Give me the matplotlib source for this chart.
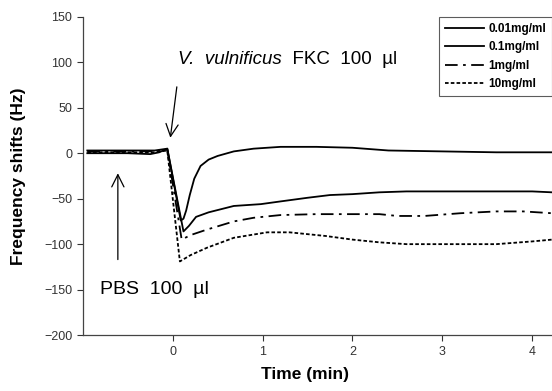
import matplotlib
matplotlib.use("Agg")
import matplotlib.pyplot as plt

plt.rcParams['font.family'] = ['Liberation Sans', 'DejaVu Sans']

# 0.01 mg/ml
t1 = [-0.95, -0.5, -0.2, -0.06, 0.09, 0.12, 0.15, 0.19, 0.24, 0.31, 0.4, 0.5, 0.68, 0.9, 1.2, 1.6, 2.0, 2.4, 3.0, 3.6, 4.22]
v1 = [3, 3, 3, 5, -74, -72, -63, -46, -28, -14, -7, -3, 2, 5, 7, 7, 6, 3, 2, 1, 1]
# 0.1 mg/ml
t2 = [-0.95, -0.5, -0.25, -0.15, -0.06, 0.12, 0.18, 0.26, 0.4, 0.68, 0.98, 1.2, 1.5, 1.75, 2.0, 2.3, 2.6, 3.0, 3.6, 4.0, 4.22]
v2 = [0, 0, -1, 1, 5, -86, -80, -70, -65, -58, -56, -53, -49, -46, -45, -43, -42, -42, -42, -42, -43]
# 1 mg/ml
t3 = [-0.95, -0.5, -0.2, -0.06, 0.1, 0.2, 0.38, 0.68, 0.9, 1.2, 1.6, 2.0, 2.3, 2.5, 2.8, 3.2, 3.6, 3.9, 4.22]
v3 = [2, 2, 2, 4, -95, -90, -84, -75, -71, -68, -67, -67, -67, -69, -69, -66, -64, -64, -66]
# 10 mg/ml
t4 = [-0.95, -0.5, -0.2, -0.06, 0.08, 0.2, 0.38, 0.68, 1.05, 1.3, 1.7, 2.0, 2.3, 2.6, 3.0, 3.6, 4.0, 4.22]
v4 = [1, 1, 1, 3, -119, -112, -104, -93, -87, -87, -91, -95, -98, -100, -100, -100, -97, -95]

labels = ['0.01mg/ml', '0.1mg/ml', '1mg/ml', '10mg/ml']
xticks = [0, 1, 2, 3, 4]
yticks = [-200, -150, -100, -50, 0, 50, 100, 150]

fig = plt.figure(figsize=(5.52, 3.91), dpi=100)
ax = fig.add_axes([0.150, 0.143, 0.85, 0.814])

ax.plot(t1, v1, color='black', lw=1.3, label=labels[0])
ax.plot(t2, v2, color='black', lw=1.3, label=labels[1])
ax.plot(t3, v3, color='black', lw=1.3, dashes=(7, 3, 1.5, 3), label=labels[2])
ax.plot(t4, v4, color='black', lw=1.3, dashes=(2, 1.2), label=labels[3])

ax.set_xlim(-1, 4.22)
ax.set_ylim(-200, 150)
ax.set_xticks(xticks)
ax.set_yticks(yticks)
ax.tick_params(labelsize=9, colors='#333333', length=4, width=0.8)
for s in ['top', 'right']:
    ax.spines[s].set_visible(False)
for s in ['left', 'bottom']:
    ax.spines[s].set_color('#444444')
    ax.spines[s].set_linewidth(0.9)

ax.set_xlabel('Time (min)', fontsize=12.5, fontweight='bold')
ax.set_ylabel('Frequency shifts (Hz)', fontsize=12.5, fontweight='bold')
ax.xaxis.set_label_coords(0.473, -0.1)
ax.yaxis.set_label_coords(-0.12, 0.5)

# annotations
ax.annotate('', xy=(-0.03, 14), xytext=(0.05, 76),
            arrowprops=dict(arrowstyle='->', lw=0.9, color='black', mutation_scale=22))
vtxt = ax.text(0.06, 103, 'V.  vulnificus', fontsize=13.5, style='italic', va='center', ha='left')
ax.annotate('  FKC  100  µl', xy=(1, 0.5), xycoords=vtxt, fontsize=13.5, va='center', ha='left')
ax.annotate('', xy=(-0.61, -19), xytext=(-0.61, -120),
            arrowprops=dict(arrowstyle='->', lw=0.9, color='black', mutation_scale=22))
ax.text(-0.81, -150, 'PBS  100  µl', fontsize=14, va='center', ha='left')

leg = ax.legend(loc='upper right', bbox_to_anchor=(1.0, 1.0), fontsize=8.5,
                frameon=True, fancybox=False, edgecolor='#333333', handlelength=3.3,
                borderaxespad=0.0, labelspacing=0.55, handletextpad=0.4, borderpad=0.5)
leg.get_frame().set_linewidth(0.8)
for txt in leg.get_texts():
    txt.set_fontweight('bold')

fig.savefig('out.png', dpi=100)
